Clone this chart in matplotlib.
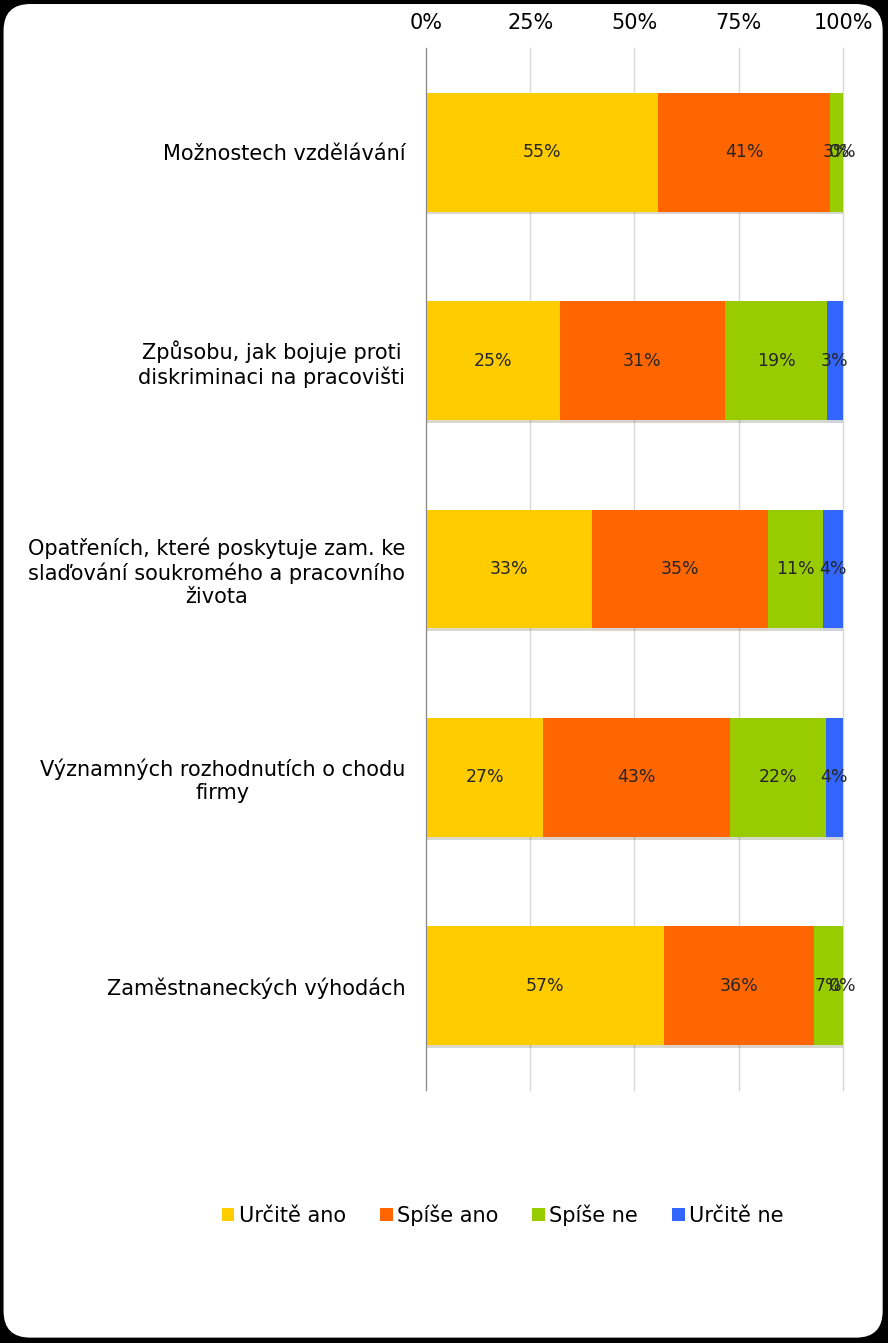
import matplotlib
matplotlib.use("Agg")
import matplotlib.pyplot as plt
from matplotlib.patches import FancyBboxPatch
import matplotlib.patheffects as pe
import numpy as np

# Data (values as labelled; bars are drawn as share of row total)
categories = [
    "Možnostech vzdělávání",
    "Způsobu, jak bojuje proti\ndiskriminaci na pracovišti",
    "Opatřeních, které poskytuje zam. ke\nslaďování soukromého a pracovního\nživota",
    "Významných rozhodnutích o chodu\nfirmy",
    "Zaměstnaneckých výhodách",
]
series_names = ["Určitě ano", "Spíše ano", "Spíše ne", "Určitě ne"]
urcite_ano = [55, 25, 33, 27, 57]
spise_ano = [41, 31, 35, 43, 36]
spise_ne = [3, 19, 11, 22, 7]
urcite_ne = [0, 3, 4, 4, 0]
colors = ["#FFCC00", "#FF6600", "#99CC00", "#3366FF"]

values = np.array([urcite_ano, spise_ano, spise_ne, urcite_ne], dtype=float)
totals = values.sum(axis=0)
shares = values / totals * 100

fig = plt.figure(figsize=(8.88, 13.43), dpi=100, facecolor="black")
bg = FancyBboxPatch((0.004, 0.004), 0.99, 0.993,
                    boxstyle="round,pad=0,rounding_size=0.03",
                    transform=fig.transFigure, facecolor="white",
                    edgecolor="none", mutation_aspect=888 / 1343, zorder=-10)
fig.patches.append(bg)

ax = fig.add_axes([0.4797, 0.1884, 0.4696, 0.7758])
ax.set_facecolor("none")

y = np.arange(len(categories))
left = np.zeros(len(categories))
for i, name in enumerate(series_names):
    bars = ax.barh(y, shares[i], left=left, height=0.57, color=colors[i],
                   label=name, zorder=3)
    for b in bars:
        b.set_path_effects([pe.SimplePatchShadow(offset=(0, -2), alpha=0.2),
                            pe.Normal()])
    ax.bar_label(bars, labels=[f"{int(v)}%" for v in values[i]],
                 label_type="center", fontsize=12.5, color="#262626", zorder=4)
    left += shares[i]

ax.set_ylim(len(categories) - 0.5, -0.5)
ax.set_xlim(0, 100)
ax.set_yticks(y)
ax.set_yticklabels(categories, fontsize=15, multialignment="center")
ax.tick_params(axis="y", length=0, pad=15)
ax.xaxis.tick_top()
ax.set_xticks([0, 25, 50, 75, 100])
ax.set_xticklabels(["0%", "25%", "50%", "75%", "100%"], fontsize=15)
ax.tick_params(axis="x", length=0, pad=11)
ax.grid(axis="x", color="#D9D9D9", linewidth=1, zorder=0)
for gl in ax.get_xgridlines():
    gl.set_clip_on(False)
for s in ["top", "right", "bottom"]:
    ax.spines[s].set_visible(False)
ax.spines["left"].set_color("#868686")
ax.spines["left"].set_zorder(5)

leg = fig.legend(loc="center", bbox_to_anchor=(0.566, 0.095), ncol=4,
                 frameon=False, fontsize=15, handlelength=0.6, handleheight=0.6,
                 handletextpad=0.2, columnspacing=1.65)
for h in leg.legend_handles:
    h.set_path_effects([])

fig.savefig("out.png", dpi=100, facecolor="black")
